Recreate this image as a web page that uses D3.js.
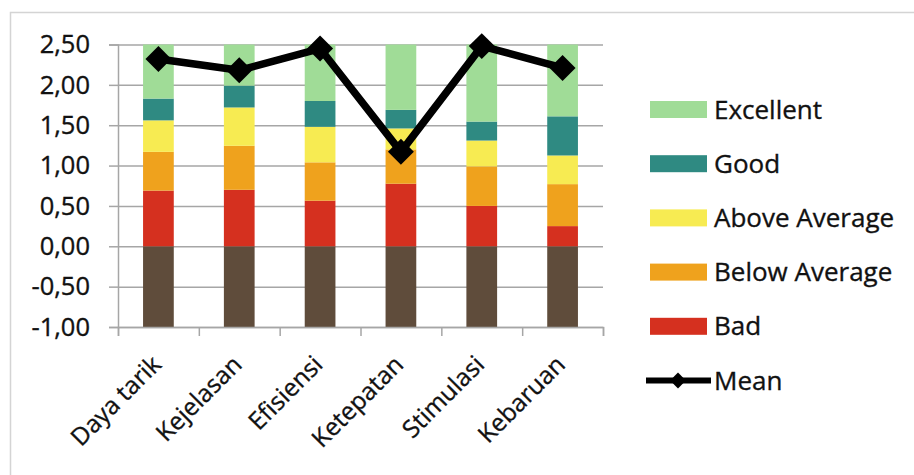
<!DOCTYPE html>
<html>
<head>
<meta charset="utf-8">
<script src="https://cdn.jsdelivr.net/npm/d3@7"></script>
<style>
  html, body { margin: 0; padding: 0; background: #fff; }
  svg { display: block; }
  text { font-family: "Open Sans", "Liberation Sans", sans-serif; fill: #111; stroke: #111; stroke-width: 0.35px; }
</style>
</head>
<body>
<svg id="chart" width="914" height="475"></svg>
<script>
// Category names and per-category segment sizes for each rating level
const categories = ["Daya tarik", "Kejelasan", "Efisiensi", "Ketepatan", "Stimulasi", "Kebaruan"];
const baseValues   = [-1, -1, -1, -1, -1, -1];
const bad          = [0.69, 0.70, 0.565, 0.775, 0.50, 0.25];
const belowAverage = [0.48, 0.545, 0.475, 0.425, 0.49, 0.52];
const aboveAverage = [0.39, 0.475, 0.44, 0.26, 0.32, 0.355];
const good         = [0.27, 0.27, 0.32, 0.23, 0.235, 0.485];
const excellent    = [0.67, 0.51, 0.70, 0.81, 0.955, 0.89];
const mean         = [2.32, 2.18, 2.45, 1.17, 2.48, 2.21];
const yTicks = [-1, -0.5, 0, 0.5, 1, 1.5, 2, 2.5];
const legendLabels = ["Excellent", "Good", "Above Average", "Below Average", "Bad", "Mean"];

const seriesKeys = ["base", "bad", "belowAverage", "aboveAverage", "good", "excellent"];
const colors = {
  base: "#5f4c3b",
  bad: "#d5301f",
  belowAverage: "#efa21d",
  aboveAverage: "#f7eb52",
  good: "#2f8a82",
  excellent: "#a0dc97"
};

const rows = categories.map((c, i) => ({
  category: c,
  base: baseValues[i],
  bad: bad[i],
  belowAverage: belowAverage[i],
  aboveAverage: aboveAverage[i],
  good: good[i],
  excellent: excellent[i],
  mean: mean[i]
}));

const svg = d3.select("#chart");
const plotLeft = 118, plotRight = 603, plotTop = 44.5, plotBottom = 327;

// outer chart frame
svg.append("rect")
  .attr("x", 10.5).attr("y", 12.5)
  .attr("width", 960).attr("height", 520)
  .attr("fill", "none").attr("stroke", "#d4d4d4").attr("stroke-width", 1.5);

const x = d3.scaleBand().domain(categories).range([plotLeft, plotRight])
  .paddingInner(0.62).paddingOuter(0.31);
const y = d3.scaleLinear().domain([-1, 2.5]).range([plotBottom, plotTop]);

const locale = d3.formatLocale({ decimal: ",", thousands: ".", grouping: [3], currency: ["", ""], minus: "-" });
const fmt = locale.format(".2f");

// horizontal gridlines
svg.append("g")
  .attr("transform", `translate(${plotLeft},0)`)
  .call(d3.axisLeft(y).tickValues(yTicks).tickSize(-(plotRight - plotLeft)).tickFormat(""))
  .call(g => g.select(".domain").remove())
  .call(g => g.selectAll("line").attr("stroke", "#a6a6a6").attr("stroke-width", 1.5));

// stacked bars
const stack = d3.stack().keys(seriesKeys).offset(d3.stackOffsetDiverging);
const stacked = stack(rows);
svg.append("g").selectAll("g")
  .data(stacked)
  .join("g")
  .attr("fill", d => colors[d.key])
  .selectAll("rect")
  .data(d => d)
  .join("rect")
  .attr("x", d => x(d.data.category))
  .attr("width", x.bandwidth())
  .attr("y", d => y(d[1]))
  .attr("height", d => y(d[0]) - y(d[1]));

// y axis
svg.append("g")
  .attr("transform", `translate(${plotLeft},0)`)
  .call(d3.axisLeft(y).tickValues(yTicks).tickSize(9).tickPadding(19).tickFormat(fmt))
  .call(g => g.select(".domain").attr("stroke", "#a6a6a6").attr("stroke-width", 1.5))
  .call(g => g.selectAll(".tick line").attr("stroke", "#a6a6a6").attr("stroke-width", 1.5))
  .call(g => g.selectAll("text")
    .style("font-family", "'Open Sans', sans-serif")
    .style("font-size", "25.5px").attr("fill", "#111"));

// x axis: tick marks at category boundaries
const xb = d3.scaleLinear().domain([0, categories.length]).range([plotLeft, plotRight]);
svg.append("g")
  .attr("transform", `translate(0,${plotBottom})`)
  .call(d3.axisBottom(xb).tickValues(d3.range(categories.length + 1)).tickSize(9).tickFormat(""))
  .call(g => g.select(".domain").attr("stroke", "#a6a6a6").attr("stroke-width", 1.5))
  .call(g => g.selectAll(".tick line").attr("stroke", "#a6a6a6").attr("stroke-width", 1.5));

// rotated category labels
svg.append("g").selectAll("text")
  .data(categories)
  .join("text")
  .attr("text-anchor", "end")
  .attr("transform", d => `translate(${x(d) + x.bandwidth() / 2 - 2},${plotBottom + 33}) rotate(-45)`)
  .attr("dy", "0.35em")
  .style("font-size", "24.5px")
  .text(d => d);

// mean line with diamond markers
const cx = d => x(d.category) + x.bandwidth() / 2;
svg.append("path")
  .datum(rows)
  .attr("fill", "none")
  .attr("stroke", "#000")
  .attr("stroke-width", 7.5)
  .attr("stroke-linejoin", "round")
  .attr("d", d3.line().x(cx).y(d => y(d.mean)));

const diamond = d3.symbol().type(d3.symbolDiamond2).size(430);
svg.append("g").selectAll("path")
  .data(rows)
  .join("path")
  .attr("transform", d => `translate(${cx(d)},${y(d.mean)})`)
  .attr("d", diamond)
  .attr("fill", "#000");

// legend
const legendKeys = ["excellent", "good", "aboveAverage", "belowAverage", "bad", "mean"];
const legend = svg.append("g");
const rowY = i => 109.5 + i * 54.2;
legendKeys.forEach((k, i) => {
  const g = legend.append("g").attr("transform", `translate(0,${rowY(i)})`);
  if (k === "mean") {
    g.append("line").attr("x1", 646).attr("x2", 711).attr("y1", 0).attr("y2", 0)
      .attr("stroke", "#000").attr("stroke-width", 6);
    g.append("path").attr("transform", "translate(678,0)")
      .attr("d", d3.symbol().type(d3.symbolDiamond2).size(160)).attr("fill", "#000");
  } else {
    g.append("rect").attr("x", 650).attr("y", -8.5).attr("width", 57).attr("height", 17)
      .attr("fill", colors[k]);
  }
  g.append("text").attr("x", 714).attr("y", 0).attr("dy", "0.35em")
    .style("font-size", "26px").text(legendLabels[i]);
});
</script>
</body>
</html>
